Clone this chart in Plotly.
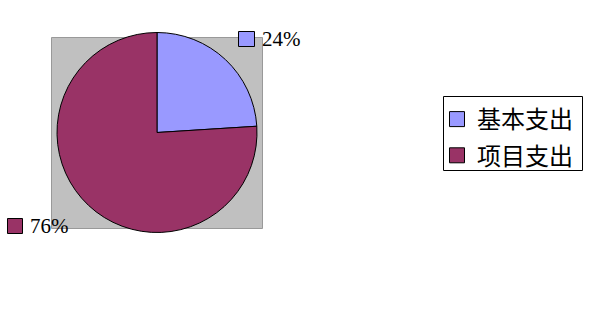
import plotly.graph_objects as go

categories = ["基本支出", "项目支出"]
values = [24, 76]
colors = ["#9999FF", "#993366"]

W, H = 591, 330
total = sum(values)
pct = [f"{v / total * 100:.0f}%" for v in values]

def px(x):
    return x / W

def py(y):
    return 1 - y / H

cx, cy, r = 157, 132.5, 100

fig = go.Figure()
fig.add_trace(go.Pie(
    labels=categories, values=values, sort=False, direction="clockwise", rotation=0,
    marker=dict(colors=colors, line=dict(color="black", width=1)),
    textinfo="none", hoverinfo="label+percent", showlegend=False,
    domain=dict(x=[px(cx - r), px(cx + r)], y=[py(cy + r), py(cy - r)]),
))
for i, (c, col) in enumerate(zip(categories, colors)):
    fig.add_trace(go.Scatter(
        x=[None], y=[None], mode="markers", name=c, legendgroup=c,
        marker=dict(symbol="square", size=15, color=col, line=dict(color="black", width=1)),
    ))

shapes = [
    dict(type="rect", xref="paper", yref="paper", x0=px(51.5), x1=px(262.5), y0=py(228.5), y1=py(37.5),
         fillcolor="#C0C0C0", line=dict(color="#999999", width=1), layer="below"),
    dict(type="rect", xref="paper", yref="paper", x0=px(443.5), x1=px(582.5), y0=py(170.5), y1=py(96.5),
         fillcolor="rgba(0,0,0,0)", line=dict(color="black", width=1)),
    # label swatches
    dict(type="rect", xref="paper", yref="paper", x0=px(238.5), x1=px(254.5), y0=py(46.5), y1=py(31.5),
         fillcolor=colors[0], line=dict(color="black", width=1)),
    dict(type="rect", xref="paper", yref="paper", x0=px(7.5), x1=px(22.5), y0=py(233.5), y1=py(218.5),
         fillcolor=colors[1], line=dict(color="black", width=1)),
]
annotations = [
    dict(xref="paper", yref="paper", x=px(260), y=py(39), xanchor="left", yanchor="middle",
         text=pct[0], showarrow=False, font=dict(family="Liberation Serif", size=21, color="black")),
    dict(xref="paper", yref="paper", x=px(28), y=py(226), xanchor="left", yanchor="middle",
         text=pct[1], showarrow=False, font=dict(family="Liberation Serif", size=21, color="black")),
]

fig.update_layout(
    width=W, height=H, margin=dict(l=0, r=0, t=0, b=0),
    paper_bgcolor="white", plot_bgcolor="white",
    xaxis=dict(visible=False), yaxis=dict(visible=False),
    shapes=shapes, annotations=annotations,
    legend=dict(x=px(437), y=py(97), xanchor="left", yanchor="top",
                bgcolor="rgba(0,0,0,0)", borderwidth=0, tracegroupgap=2,
                font=dict(family="Noto Sans CJK SC", size=24, color="black")),
)
fig.write_html("out.html")
